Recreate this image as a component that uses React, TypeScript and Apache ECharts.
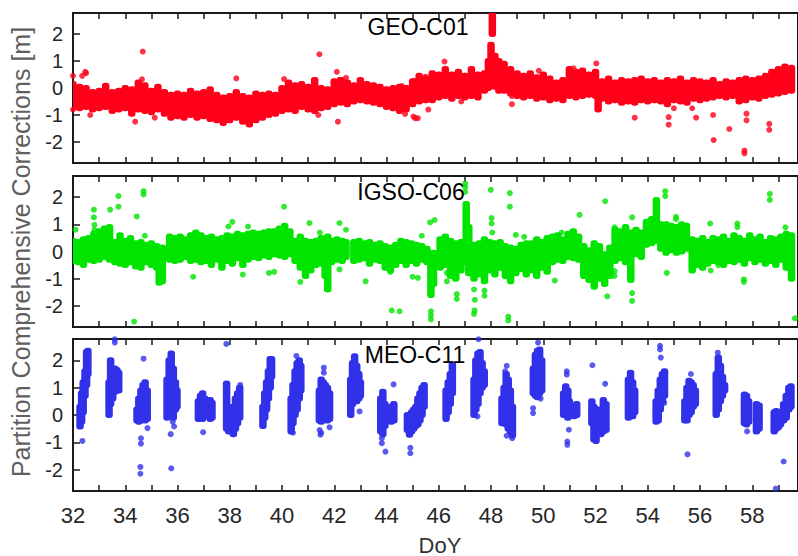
import React, { useEffect, useRef } from 'react';
import * as echarts from 'echarts';

// ---------------- data ----------------
const panelNames = ['GEO-C01', 'IGSO-C06', 'MEO-C11'];
const panelColors = ['#fe0019', '#00e400', '#3131ea'];
const xAxisTitle = 'DoY';
const yAxisTitle = 'Partition Comprehensive Corrections [m]';
const xMin = 32;
const xMax = 59.75;
const yMin = -2.78;
const yMax = 2.78;

// dense sample clouds: [DoY, lowest value, highest value]
const geoBand: [number, number, number][] = [
  [32.0, -0.7, 0.15], [32.25, -0.75, 0.05], [32.5, -0.7, 0.0], [32.75, -0.8, -0.15], [33.0, -0.75, -0.1],
  [33.25, -0.7, 0.08], [33.5, -0.85, -0.15], [33.75, -0.8, -0.1], [34.0, -0.75, 0.0], [34.25, -0.95, -0.05],
  [34.5, -0.8, 0.2], [34.75, -0.85, 0.1], [35.0, -0.9, -0.1], [35.25, -0.8, 0.05], [35.5, -0.95, -0.15],
  [35.75, -1.1, -0.25], [36.0, -1.05, -0.2], [36.25, -1.1, -0.25], [36.5, -1.0, -0.1], [36.75, -1.1, -0.2],
  [37.0, -1.05, -0.15], [37.25, -1.15, -0.05], [37.5, -1.2, -0.25], [37.75, -1.3, -0.35], [38.0, -1.2, -0.3],
  [38.25, -1.1, -0.15], [38.5, -1.25, -0.3], [38.75, -1.35, -0.35], [39.0, -1.2, -0.2], [39.25, -1.1, -0.25],
  [39.5, -1.0, -0.2], [39.75, -0.95, -0.25], [40.0, -0.85, 0.0], [40.25, -0.8, 0.2], [40.5, -0.85, 0.1],
  [40.75, -0.7, 0.15], [41.0, -0.8, 0.05], [41.25, -0.85, 0.3], [41.5, -0.75, 0.0], [41.75, -0.7, -0.05],
  [42.0, -0.6, 0.25], [42.25, -0.55, 0.3], [42.5, -0.6, 0.2], [42.75, -0.5, 0.1], [43.0, -0.45, 0.3],
  [43.25, -0.5, 0.15], [43.5, -0.55, 0.1], [43.75, -0.6, 0.05], [44.0, -0.7, -0.05], [44.25, -0.75, 0.0],
  [44.5, -0.85, 0.05], [44.75, -0.8, 0.0], [45.0, -0.6, 0.25], [45.25, -0.5, 0.45], [45.5, -0.45, 0.35],
  [45.75, -0.45, 0.55], [46.0, -0.35, 0.5], [46.25, -0.3, 0.7], [46.5, -0.4, 0.5], [46.75, -0.3, 0.6],
  [47.0, -0.35, 0.45], [47.25, -0.3, 0.7], [47.5, -0.35, 0.5], [47.75, -0.1, 0.55], [47.9, 0.0, 1.0],
  [48.0, 0.1, 1.6], [48.05, 2.0, 2.8], [48.15, 0.05, 1.2], [48.3, -0.1, 1.0], [48.5, -0.1, 0.9],
  [48.75, -0.2, 0.7], [49.0, -0.3, 0.55], [49.25, -0.35, 0.45], [49.5, -0.3, 0.55], [49.75, -0.4, 0.4],
  [50.0, -0.35, 0.5], [50.25, -0.45, 0.35], [50.5, -0.4, 0.2], [50.75, -0.45, 0.3], [51.0, -0.3, 0.7],
  [51.25, -0.35, 0.6], [51.5, -0.3, 0.65], [51.75, -0.25, 0.5], [52.0, -0.3, 0.6], [52.1, -0.8, 0.2],
  [52.25, -0.4, 0.25], [52.5, -0.5, 0.35], [52.75, -0.45, 0.2], [53.0, -0.55, 0.3], [53.25, -0.5, 0.25],
  [53.5, -0.55, 0.3], [53.75, -0.45, 0.35], [54.0, -0.5, 0.25], [54.25, -0.45, 0.3], [54.5, -0.5, 0.2],
  [54.75, -0.6, 0.3], [55.0, -0.45, 0.25], [55.25, -0.5, 0.35], [55.5, -0.55, 0.2], [55.75, -0.4, 0.3],
  [56.0, -0.45, 0.25], [56.25, -0.4, 0.2], [56.5, -0.35, 0.3], [56.75, -0.3, 0.15], [57.0, -0.35, 0.25],
  [57.25, -0.3, 0.2], [57.5, -0.5, 0.3], [57.75, -0.45, 0.35], [58.0, -0.35, 0.3], [58.25, -0.4, 0.35],
  [58.5, -0.3, 0.45], [58.75, -0.25, 0.6], [59.0, -0.2, 0.7], [59.25, -0.15, 0.8], [59.5, -0.1, 0.75],
];

const geoPoints: [number, number][] = [
  [32.0, 0.45], [32.0, -0.8], [32.35, 0.45], [32.47, 0.6], [32.5, 0.55], [32.66, -1.0], [34.38, -1.25],
  [34.67, 1.35], [34.64, 0.32], [35.13, -1.1], [35.74, -0.8], [38.25, 0.36], [40.08, 0.33], [41.43, 1.25],
  [41.39, -1.0], [42.1, 0.6], [42.14, -1.25], [42.2, 0.3], [42.45, 0.38], [45.05, 0.27], [45.1, -1.12],
  [44.59, 0.07], [44.71, -0.96], [45.03, -1.06], [45.2, -1.12], [45.6, -0.8], [45.5, 0.42], [46.22, 0.98],
  [46.86, -0.5], [48.8, -0.3], [48.8, -0.6], [49.83, 0.64], [51.16, 0.73], [52.03, 0.91], [53.5, -1.1],
  [53.7, -0.38], [54.8, -1.08], [54.8, -1.36], [55.0, -0.75], [55.85, -1.1], [55.7, -0.75], [56.5, -1.0],
  [56.52, -1.93], [57.12, -1.52], [57.7, -2.32], [57.7, -2.42], [57.78, -0.95], [57.78, -1.2],
  [58.65, -1.33], [58.65, -1.55],
];

const igsoBand: [number, number, number][] = [
  [32.0, -0.35, 0.4], [32.2, -0.4, 0.35], [32.4, -0.5, 0.45], [32.6, -0.3, 0.5], [32.8, -0.35, 0.65],
  [33.0, -0.3, 0.75], [33.2, -0.2, 0.85], [33.4, -0.3, 0.9], [33.6, -0.4, 0.35], [33.8, -0.45, 0.6],
  [34.0, -0.5, 0.4], [34.2, -0.4, 0.5], [34.4, -0.55, 0.3], [34.6, -0.6, 0.35], [34.8, -0.4, 0.25],
  [35.0, -0.5, 0.3], [35.2, -0.6, 0.2], [35.3, -1.15, 0.1], [35.42, -1.1, 0.15],
  [35.7, -0.3, 0.55], [35.9, -0.35, 0.5], [36.1, -0.3, 0.55], [36.3, -0.2, 0.45], [36.5, -0.35, 0.6],
  [36.7, -0.3, 0.7], [36.9, -0.4, 0.6], [37.1, -0.35, 0.5], [37.3, -0.5, 0.55], [37.5, -0.3, 0.45],
  [37.7, -0.6, 0.5], [37.9, -0.35, 0.6], [38.1, -0.45, 0.55], [38.3, -0.25, 0.65], [38.5, -0.5, 0.6],
  [38.7, -0.3, 0.65], [38.9, -0.2, 0.7], [39.1, -0.25, 0.65], [39.3, -0.15, 0.7], [39.5, -0.2, 0.75],
  [39.7, -0.1, 0.75], [39.9, -0.15, 0.85], [40.1, -0.2, 0.95], [40.3, -0.1, 0.75], [40.5, -0.35, 0.4],
  [40.7, -0.6, 0.55], [40.9, -0.9, 0.4], [41.1, -0.7, 0.35], [41.3, -0.5, 0.4], [41.5, -0.45, 0.5],
  [41.65, -0.9, 0.3], [41.75, -1.4, 0.55], [41.9, -0.4, 0.4], [42.1, -0.3, 0.45], [42.3, -0.35, 0.4],
  [42.45, -0.2, 0.35], [42.75, -0.35, 0.35], [42.95, -0.3, 0.4], [43.15, -0.25, 0.3], [43.35, -0.45, 0.35],
  [43.55, -0.3, 0.25], [43.75, -0.35, 0.3], [43.95, -0.6, 0.2], [44.15, -0.7, 0.15], [44.35, -0.5, 0.25],
  [44.55, -0.35, 0.4], [44.75, -0.5, 0.35], [44.95, -0.35, 0.3], [45.15, -0.45, 0.25], [45.35, -0.3, 0.2],
  [45.55, -0.4, 0.1], [45.7, -1.6, -0.1], [45.8, -1.2, -0.05], [46.05, -0.6, 0.45], [46.25, -0.5, 0.55],
  [46.45, -0.9, 0.4], [46.65, -1.0, 0.3], [46.85, -0.7, 0.35], [47.05, -0.4, 1.75], [47.15, -0.8, 0.9],
  [47.35, -1.0, 0.25], [47.55, -0.85, 0.3], [47.75, -1.1, 0.45], [47.95, -0.7, 0.35], [48.15, -0.85, 0.3],
  [48.35, -0.6, 0.35], [48.55, -0.9, 0.2], [48.75, -1.1, 0.15], [48.95, -0.8, 0.1], [49.15, -0.65, 0.25],
  [49.35, -0.85, 0.3], [49.55, -0.7, 0.3], [49.75, -0.9, 0.45], [49.95, -0.6, 0.35], [50.15, -0.75, 0.5],
  [50.35, -0.4, 0.55], [50.55, -0.3, 0.6], [50.75, -0.35, 0.45], [50.95, -0.2, 0.65], [51.15, -0.25, 0.75],
  [51.35, -0.3, 0.55], [51.55, -0.9, 0.2], [51.75, -1.05, 0.05], [51.95, -1.3, 0.3], [52.15, -1.0, 0.2],
  [52.35, -1.2, -0.1], [52.55, -0.9, 0.15], [52.75, -0.35, 0.8], [52.95, -0.25, 0.75], [53.15, -0.4, 0.9],
  [53.35, -1.05, 0.7], [53.55, -0.1, 0.8], [53.75, -0.2, 0.7], [53.95, 0.25, 1.1], [54.15, 0.3, 1.2],
  [54.33, 0.4, 1.9], [54.5, 0.1, 1.0], [54.7, -0.05, 1.0], [54.9, 0.05, 0.95], [55.1, -0.05, 0.9],
  [55.3, 0.0, 1.0], [55.48, 0.1, 0.95], [55.7, -0.7, 0.45], [55.9, -0.5, 0.4], [56.1, -0.6, 0.5],
  [56.3, -0.45, 0.35], [56.5, -0.35, 0.5], [56.7, -0.4, 0.45], [56.9, -0.5, 0.55], [57.1, -0.35, 0.4],
  [57.3, -0.4, 0.6], [57.5, -0.3, 0.5], [57.7, -0.45, 0.4], [57.9, -0.25, 0.6], [58.1, -0.4, 0.45],
  [58.3, -0.3, 0.55], [58.5, -0.45, 0.35], [58.7, -0.35, 0.5], [58.9, -0.5, 0.45], [59.1, -0.3, 0.55],
  [59.3, -0.6, 0.65], [59.5, -1.0, 0.6],
];

const igsoPoints: [number, number][] = [
  [32.1, 0.8], [32.8, 1.54], [32.8, 1.26], [32.82, 0.98], [32.82, 0.8], [33.42, 1.54], [33.74, 2.04],
  [33.74, 1.65], [34.7, 2.22], [34.7, 2.1], [34.44, 1.29], [34.34, -2.58], [34.75, 0.58], [36.6, -0.93],
  [37.0, -0.25], [38.1, 1.09], [37.95, 0.92], [38.7, 0.92], [38.5, -0.85], [39.5, -0.79], [39.7, -0.75],
  [40.08, 1.65], [41.05, 1.05], [40.7, -1.12], [40.9, -0.8], [42.2, 1.05], [42.45, 0.8], [42.2, -0.66],
  [41.45, 0.7], [44.2, -2.17], [43.2, -1.1], [44.15, -0.75], [45.0, -0.93], [44.5, -2.2], [45.67, 1.07],
  [45.84, 1.16], [45.35, 0.58], [45.2, -0.97], [45.7, -2.2], [45.7, -2.35], [45.7, -2.5], [46.31, -0.79],
  [46.31, -1.1], [46.69, -1.57], [46.69, -1.75], [47.01, 2.5], [47.01, 2.37], [47.01, 2.19], [47.35, -1.4],
  [47.38, -1.78], [47.37, -2.17], [47.35, -2.3], [47.75, -1.44], [47.75, -1.63], [47.99, 2.27],
  [48.02, 1.23], [48.02, 1.03], [48.05, 0.7], [48.72, 2.15], [48.72, 1.65], [48.66, -2.4], [48.66, -2.54],
  [48.95, 0.61], [49.27, 0.54], [50.44, -1.07], [50.7, 0.7], [51.39, 1.35], [52.37, 1.85], [52.45, -1.65],
  [52.73, 0.89], [53.4, 2.8], [53.4, 1.26], [53.4, -1.53], [53.4, -1.82], [52.73, -0.72], [52.73, -0.9],
  [54.67, 2.22], [54.67, 2.04], [54.73, -0.79], [55.08, 1.28], [55.08, 1.19], [56.39, 1.03], [57.43, 1.03],
  [57.43, 0.9], [57.68, -1.03], [57.68, -1.12], [58.67, 2.12], [58.67, 1.9], [59.27, 0.89], [59.63, -2.46],
  [56.41, -0.7], [56.7, -0.5],
];

const meoBand: [number, number, number][] = [
  [32.27, -0.42, 0.3], [32.33, -0.25, 0.8], [32.39, 0.1, 1.2], [32.46, 0.7, 1.6], [32.52, 1.1, 2.3], [32.57, 1.5, 2.35],
  [33.38, 0.0, 1.2], [33.44, 0.4, 2.0], [33.52, 0.6, 1.6], [33.6, 0.85, 1.7], [33.68, 0.9, 1.65], [33.75, 0.9, 1.55],
  [34.45, -0.2, 0.2], [34.52, -0.25, 0.6], [34.6, -0.2, 0.9], [34.68, 0.0, 1.1], [34.76, -0.2, 1.2], [34.84, -0.15, 0.9],
  [35.6, -0.1, 1.3], [35.68, 0.1, 2.0], [35.76, 0.0, 2.25], [35.84, -0.1, 1.7], [35.92, 0.2, 1.2], [35.98, 0.3, 0.9],
  [36.8, -0.15, 0.5], [36.88, -0.1, 0.7], [36.96, -0.15, 0.8], [37.04, -0.05, 0.6], [37.25, -0.15, 0.55], [37.32, -0.1, 0.45],
  [37.88, -0.5, 1.15], [37.96, -0.6, 0.3], [38.05, -0.4, 0.2], [38.14, -0.7, 0.3], [38.22, -0.5, 0.6], [38.3, -0.3, 0.8], [38.38, -0.1, 1.0],
  [39.27, -0.4, 0.3], [39.34, -0.1, 0.8], [39.41, 0.2, 1.2], [39.48, 0.6, 1.6], [39.55, 1.0, 2.05], [39.6, 1.4, 2.05],
  [40.35, -0.6, 0.6], [40.42, -0.3, 1.1], [40.5, 0.0, 1.6], [40.58, 0.2, 1.9], [40.66, 0.6, 2.0], [40.72, 0.9, 1.8],
  [41.43, -0.2, 0.9], [41.5, -0.25, 1.3], [41.58, -0.2, 1.2], [41.66, -0.1, 1.1], [41.74, -0.2, 1.0], [41.82, -0.15, 0.8],
  [42.63, 0.0, 1.3], [42.7, 0.4, 1.9], [42.78, 0.5, 2.15], [42.86, 0.5, 1.8], [42.94, 0.6, 1.5], [43.0, 0.7, 1.2],
  [43.78, -0.6, 0.6], [43.86, -0.7, 0.85], [43.94, -0.4, 0.4], [44.18, -0.25, 0.3], [44.28, -0.2, 0.4],
  [44.8, -0.55, 0.0], [44.88, -0.72, -0.05], [44.96, -0.6, 0.1], [45.04, -0.5, 0.2], [45.12, -0.4, 0.3],
  [45.2, -0.35, 0.6], [45.28, -0.2, 0.8], [45.36, 0.0, 1.0], [45.44, 0.3, 1.1],
  [46.28, -0.15, 0.9], [46.36, 0.1, 1.2], [46.44, 0.4, 1.5], [46.52, 0.8, 1.85],
  [47.35, 0.0, 1.3], [47.42, 0.2, 2.0], [47.5, 0.4, 2.25], [47.58, 0.8, 2.3], [47.66, 1.0, 1.9], [47.74, 1.1, 1.6],
  [48.42, -0.3, 0.6], [48.5, -0.25, 1.0], [48.58, -0.35, 1.5], [48.66, -0.5, 1.3], [48.74, -0.6, 0.9], [48.82, -0.75, 0.3],
  [49.62, 0.8, 1.7], [49.7, 0.7, 2.2], [49.78, 0.65, 2.35], [49.86, 0.8, 2.4], [49.94, 0.9, 2.0],
  [50.78, 0.0, 0.8], [50.86, 0.1, 1.05], [50.94, -0.1, 0.9], [51.0, 0.0, 0.5], [51.18, -0.05, 0.35], [51.28, 0.0, 0.4],
  [51.86, -0.3, 0.5], [51.94, -0.9, 0.3], [52.02, -0.95, 0.1], [52.1, -0.6, 0.2], [52.2, -0.7, 0.1], [52.3, -0.6, 0.55], [52.4, -0.55, 0.4],
  [53.26, -0.1, 1.3], [53.34, 0.0, 1.55], [53.42, -0.05, 1.2], [53.5, 0.1, 0.9],
  [54.32, -0.25, 0.5], [54.4, -0.2, 0.9], [54.48, 0.2, 1.3], [54.56, 0.5, 1.5], [54.64, 0.7, 1.6],
  [55.42, -0.2, 0.5], [55.5, -0.2, 1.0], [55.58, 0.0, 1.25], [55.66, 0.1, 1.2], [55.74, 0.3, 1.1], [55.82, 0.4, 0.9],
  [56.62, 0.0, 1.5], [56.7, 0.2, 2.1], [56.78, 0.5, 1.8], [56.86, 0.7, 1.4], [56.94, 0.9, 1.1],
  [57.7, -0.3, 0.75], [57.78, -0.35, 0.7], [57.86, -0.25, 0.5], [58.16, -0.6, 0.4], [58.26, -0.5, 0.35],
  [58.84, -0.6, 0.1], [58.92, -0.5, 0.15], [59.0, -0.45, -0.05], [59.08, -0.35, 0.1],
  [59.2, -0.2, 0.4], [59.3, -0.1, 0.7], [59.4, 0.2, 1.0], [59.48, 0.3, 1.05],
];

const meoPoints: [number, number][] = [
  [32.36, -0.95], [33.6, 2.77], [33.6, 2.65], [34.7, 2.06], [34.6, -0.85], [34.6, -1.05], [34.58, -1.9],
  [34.58, -2.15], [34.85, -0.48], [35.76, -1.95], [35.74, -0.7], [35.87, -0.42], [35.82, -0.25],
  [36.98, -0.63], [37.87, 2.6], [38.4, 1.1], [40.38, -0.5], [40.42, -0.65], [40.55, 2.16], [41.6, 1.73],
  [41.6, 1.55], [41.44, -0.55], [41.5, -0.65], [41.47, -0.72], [41.82, -0.45], [42.97, 0.13],
  [43.82, -0.85], [43.82, -1.03], [43.96, -1.34], [44.27, 1.12], [44.91, -1.2], [44.91, -1.4],
  [47.52, 2.77], [47.48, -0.05], [48.6, 1.8], [48.54, 1.6], [48.6, -0.76], [48.81, -0.85], [49.8, 2.65],
  [49.61, 0.07], [49.9, 0.6], [49.61, 0.25], [50.9, 1.6], [50.9, 1.48], [50.98, -0.54], [50.92, -0.97],
  [50.92, -1.09], [51.88, 1.82], [52.37, 1.14], [54.47, 2.53], [54.47, 2.4], [54.5, 2.1], [54.63, 0.44],
  [55.65, 1.5], [55.52, -1.44], [56.68, 2.28], [56.7, 2.1], [57.8, -0.6], [59.2, -1.7], [58.9, -2.69],
];

const bands = [geoBand, igsoBand, meoBand];
const points = [geoPoints, igsoPoints, meoPoints];

// ---------------- layout ----------------
const gridTops = [13, 176, 339];
const gridHeights = [150, 151, 152];
const titlePos: [number, number][] = [[418, 27], [411, 192], [415, 355]];
const axisColor = '#1a1a1a';
const labelColor = '#262626';
const fontFamily = 'Liberation Sans, Arial, sans-serif';

function makeBandRenderer(color: string) {
  return (params: any, api: any) => {
    const x = api.value(0);
    const lo = api.value(1);
    const hi = api.value(2);
    const pTop = api.coord([x, hi]);
    const pBot = api.coord([x, lo]);
    const w = 7.5;
    return {
      type: 'rect',
      shape: { x: pTop[0] - w / 2, y: pTop[1] - 3, width: w, height: pBot[1] - pTop[1] + 6, r: 3 },
      style: { fill: color },
    };
  };
}

export default function App() {
  const ref = useRef<HTMLDivElement>(null);

  useEffect(() => {
    if (!ref.current) return;
    const chart = echarts.init(ref.current, undefined, { renderer: 'svg' });

    const grid: any[] = [];
    const xAxis: any[] = [];
    const yAxis: any[] = [];
    const series: any[] = [];

    for (let i = 0; i < 3; i++) {
      grid.push({
        left: 73,
        right: -3,
        top: gridTops[i],
        height: gridHeights[i],
        show: true,
        borderColor: axisColor,
        borderWidth: 2,
        backgroundColor: 'transparent',
      });
      const tick = { show: true, inside: true, length: 6, lineStyle: { color: axisColor, width: 1.5 } };
      xAxis.push({
        gridIndex: i,
        type: 'value',
        position: 'bottom',
        min: xMin,
        max: xMax,
        interval: 1,
        axisLine: { show: false, onZero: false },
        axisTick: tick,
        splitLine: { show: false },
        axisLabel: {
          show: i === 2,
          fontSize: 22,
          fontFamily,
          color: labelColor,
          margin: 13,
          showMaxLabel: false,
          formatter: (v: number) => (Number.isInteger(v) && v % 2 === 0 && v <= 58 ? String(v) : ''),
        },
      });
      xAxis.push({
        gridIndex: i,
        type: 'value',
        position: 'top',
        min: xMin,
        max: xMax,
        interval: 1,
        axisLine: { show: false, onZero: false },
        axisTick: tick,
        splitLine: { show: false },
        axisLabel: { show: false },
      });
      yAxis.push({
        gridIndex: i,
        type: 'value',
        min: yMin,
        max: yMax,
        axisLine: { show: false, onZero: false },
        axisTick: { show: true, inside: true, length: 7, lineStyle: { color: axisColor, width: 1.5 } },
        splitLine: { show: false },
        axisLabel: {
          fontSize: 20,
          fontFamily,
          color: labelColor,
          margin: 10,
          showMinLabel: false,
          showMaxLabel: false,
          formatter: (v: number) => (Number.isInteger(v) ? String(v) : ''),
        },
      });
      series.push({
        type: 'custom',
        name: panelNames[i] + ' cloud',
        xAxisIndex: i * 2,
        yAxisIndex: i,
        data: bands[i],
        encode: { x: 0, y: [1, 2] },
        renderItem: makeBandRenderer(panelColors[i]),
        clip: true,
        silent: true,
      });
      series.push({
        type: 'scatter',
        name: panelNames[i],
        xAxisIndex: i * 2,
        yAxisIndex: i,
        data: points[i],
        symbolSize: 6,
        itemStyle: { color: panelColors[i] },
        clip: true,
        silent: true,
      });
    }

    const graphic: any[] = panelNames.map((name, i) => ({
      type: 'text',
      x: titlePos[i][0],
      y: titlePos[i][1],
      style: {
        text: name,
        fontSize: 23,
        fontFamily,
        fill: '#000',
        textAlign: 'center',
        textVerticalAlign: 'middle',
      },
      z: 100,
    }));
    graphic.push({
      type: 'text',
      x: 21,
      y: 252,
      rotation: Math.PI / 2,
      style: {
        text: yAxisTitle,
        fontSize: 25,
        fontFamily,
        fill: '#5f5f5f',
        textAlign: 'center',
        textVerticalAlign: 'middle',
      },
    });
    graphic.push({
      type: 'text',
      x: 440,
      y: 545,
      style: {
        text: xAxisTitle,
        fontSize: 22,
        fontFamily,
        fill: '#333',
        textAlign: 'center',
        textVerticalAlign: 'middle',
      },
    });

    chart.setOption({
      animation: false,
      backgroundColor: '#fff',
      grid,
      xAxis,
      yAxis,
      series,
      graphic,
    });

    return () => chart.dispose();
  }, []);

  return (
    <div
      ref={ref}
      style={{ position: 'absolute', left: 0, top: 0, width: 798, height: 556 }}
    />
  );
}
